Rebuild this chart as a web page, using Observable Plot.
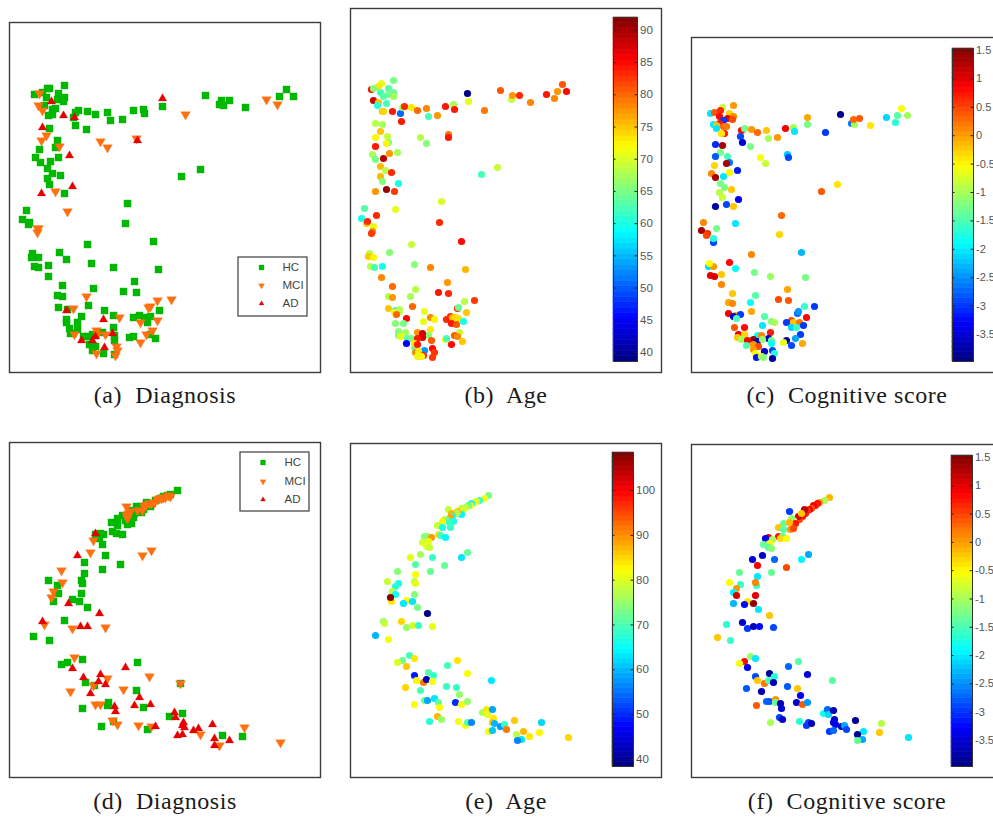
<!DOCTYPE html>
<html><head><meta charset="utf-8">
<script src="https://cdn.jsdelivr.net/npm/d3@7"></script>
<script src="https://cdn.jsdelivr.net/npm/@observablehq/plot@0.6"></script>
<style>
html,body{margin:0;padding:0;background:#fff;width:993px;height:818px;overflow:hidden}
#page{position:relative;width:993px;height:818px;overflow:hidden}
#page svg{position:absolute;overflow:hidden;background:none}
.cap{position:absolute;font-family:"Liberation Serif",serif;font-size:24px;letter-spacing:.55px;color:#1a1a1a;white-space:pre;transform:translateX(-50%);line-height:26px}
</style></head><body><div id="page"></div>
<script>
const hcA=[[64,85],[49,88],[47,88],[42,92],[34,94],[58,93],[64,97],[46,97],[57,99],[63,101],[44,105],[55,108],[52,109],[52,114],[48,115],[78,110],[75,112],[87,111],[95,114],[107,112],[110,120],[122,119],[133,110],[143,109],[144,113],[162,106],[73,117],[75,125],[86,129],[49,128],[57,140],[55,147],[39,149],[35,157],[40,162],[50,161],[58,157],[47,168],[52,173],[60,175],[47,178],[49,184],[64,193],[127,203],[125,223],[26,210],[22,219],[29,222],[28,224],[181,176],[200,169],[205,95],[221,100],[229,100],[219,104],[223,105],[245,107],[279,96],[286,89],[293,96],
[87,244],[153,241],[32,253],[31,257],[38,257],[59,252],[66,259],[91,263],[113,267],[158,269],[34,266],[38,267],[48,265],[48,276],[134,281],[62,285],[93,288],[57,295],[62,296],[123,291],[136,292],[88,305],[58,307],[67,309],[104,310],[159,310],[81,316],[113,315],[133,317],[139,315],[144,317],[150,316],[147,322],[66,319],[66,322],[77,322],[113,327],[69,328],[77,329],[70,333],[83,336],[87,336],[92,334],[102,332],[114,335],[114,340],[129,337],[133,336],[150,334],[155,338],[89,344],[95,346],[92,350],[103,353],[114,354]];
const mciA=[[39,93],[38,105],[42,110],[46,135],[41,140],[59,146],[55,191],[67,211],[38,228],[100,141],[107,147],[136,138],[185,114],[266,99],[277,104],[37,228],[37,232],[86,296],[73,308],[157,300],[171,299],[150,306],[148,307],[119,317],[140,322],[157,320],[152,330],[146,334],[140,342],[96,330],[74,334],[105,334],[97,334],[116,346],[117,350],[115,355],[96,353]];
const adA=[[51,101],[63,115],[74,117],[42,127],[69,155],[72,186],[41,193],[137,140],[162,98],[66,310],[103,319],[112,333],[95,336],[92,340],[81,340],[104,347]];

const ageB=[[393,80,65],[381,83,71],[378,86,73],[371,89,85],[373,88,66],[388,88,63],[380,92,62],[393,92,64],[393,96,67],[388,94,65],[383,96,63],[373,100,88],[378,102,75],[386,103,62],[377,105,61],[382,111,76],[383,111,74],[392,111,84],[400,113,51],[402,107,67],[404,106,83],[411,107,73],[417,110,80],[426,108,78],[428,116,62],[437,115,77],[445,106,84],[453,104,67],[454,109,84],[467,93,39],[468,101,71],[484,110,79],[500,90,81],[511,99,69],[512,95,77],[519,95,83],[530,102,78],[546,94,84],[554,98,78],[557,91,77],[562,84,81],[566,91,85],[401,121,84],[375,123,68],[382,124,67],[380,131,75],[387,136,69],[375,137,72],[388,142,65],[386,143,72],[375,146,84],[420,137,68],[426,143,66],[448,134,79],[448,137,84],[397,152,67],[389,153,77],[372,154,67],[375,159,65],[383,158,89],[380,166,76],[385,170,68],[391,172,83],[380,176,76],[382,181,66],[398,183,60],[375,191,77],[386,189,91],[394,191,82],[441,201,70],[497,167,69],[481,174,62],
[364,208,63],[395,209,71],[376,215,83],[361,218,60],[366,223,75],[367,221,83],[373,226,71],[372,231,78],[371,233,82],[439,222,83],[411,244,69],[461,241,85],[389,252,66],[369,253,68],[368,256,75],[373,257,72],[414,264,66],[430,267,78],[465,269,76],[370,266,68],[374,267,62],[382,266,60],[381,277,78],[447,282,77],[392,286,80],[415,289,68],[438,292,84],[448,293,83],[388,296,68],[392,297,77],[410,296,67],[464,301,68],[474,300,82],[457,308,83],[458,307,64],[388,308,75],[412,306,80],[395,310,60],[399,309,68],[394,312,72],[399,311,68],[396,314,80],[424,311,71],[466,312,75],[406,318,85],[430,317,78],[434,319,72],[446,319,83],[450,316,83],[452,317,76],[455,317,74],[458,318,73],[423,321,71],[451,323,84],[456,324,81],[463,321,60],[395,323,66],[403,323,65],[430,329,73],[459,332,69],[398,331,66],[405,332,67],[398,335,65],[400,336,71],[417,332,77],[428,335,66],[422,333,87],[422,337,87],[407,338,63],[411,338,65],[417,338,84],[454,335,81],[457,336,78],[445,339,72],[446,338,62],[462,341,75],[431,340,81],[406,343,45],[414,347,64],[414,343,73],[451,344,85],[432,348,85],[417,344,84],[424,350,53],[434,352,82],[415,352,78],[418,351,73],[423,355,83],[417,356,71],[421,356,72],[432,357,82]];

const cogC=[[733,105,0],[722,107,-0.8],[710,113,-2],[714,112,0.4],[720,110,0.6],[729,113,-0.3],[733,116,0.1],[719,116,0.8],[727,118,1],[732,119,0.5],[723,120,-3],[719,123,0.7],[713,124,-2],[716,125,-0.2],[723,126,0.3],[726,126,0.2],[716,128,-2],[724,133,0.7],[721,133,-0.4],[741,130,0.8],[744,128,-1.3],[751,129,0],[757,132,0.3],[766,130,-0.2],[785,128,0.9],[793,127,-1],[794,131,-2],[768,138,-1],[777,137,0],[807,117,-0.1],[807,124,-1.3],[825,132,-3],[840,114,-3.9],[851,123,-2.6],[854,124,-1],[853,119,0.3],[859,118,0.4],[870,125,-0.4],[886,117,-2.1],[895,122,-1.7],[897,115,-1.4],[901,108,-0.6],[907,115,-1],[740,136,-2.9],[742,142,-3.5],[750,146,-1.3],[715,144,-3.1],[722,145,1.3],[720,152,-1.3],[727,156,-1.5],[715,156,-2.8],[729,162,-2.6],[726,163,1.3],[714,165,-0.3],[760,157,-0.6],[765,163,-0.8],[787,154,-2.2],[788,157,-2.9],[737,170,-3.2],[729,172,-0.5],[711,173,0.1],[715,177,1.3],[723,176,-2],[720,183,-1.3],[724,187,-1.3],[731,189,-0.2],[719,192,-0.9],[722,197,-0.8],[738,199,-3.3],[715,206,-3.8],[726,204,-2.9],[733,206,-0.2],[837,184,-0.4],[821,191,0.4],
[781,215,0.3],[703,222,0.1],[735,223,-2],[716,228,-1.3],[701,230,1.3],[707,233,0.6],[706,235,0.5],[713,242,-2.9],[713,238,-1.7],[779,234,-0.3],[751,254,0.1],[801,252,-2.3],[729,262,0.8],[708,266,-2.1],[713,266,0],[709,263,-0.6],[735,268,-1.9],[754,272,-1.3],[770,276,-1.1],[805,277,-1.3],[710,275,1],[714,276,1.1],[721,274,-0.2],[721,284,0.1],[787,289,-0.1],[732,293,-0.2],[755,295,-1.4],[778,299,0.5],[788,300,0.4],[728,302,-0.1],[732,303,0.1],[750,302,-1.9],[804,306,-1.6],[814,306,-3],[751,311,-0.1],[797,313,-2.7],[798,311,-2.5],[728,313,0.9],[735,315,-0.1],[733,316,-3.6],[740,314,-3],[736,318,-1.5],[764,316,-1.4],[806,317,0.8],[771,321,-1.2],[774,322,-1],[791,320,0.5],[786,322,-3],[793,322,-0.2],[799,322,0.2],[791,327,-2.1],[796,327,-1.6],[803,325,-3],[762,325,-2],[734,327,0.4],[744,327,0.8],[770,332,0.7],[800,334,-3],[738,334,1],[744,334,-0.3],[737,337,-0.2],[741,339,-1],[757,335,-1.9],[761,335,0.1],[768,338,-3.6],[753,339,1.4],[747,340,0.9],[757,341,-3.6],[762,339,-1.1],[771,340,-1.3],[795,338,-2.4],[786,340,-3.8],[783,342,-0.7],[802,343,-0.1],[771,343,-1.9],[791,345,-2.9],[746,345,-1.5],[753,344,0],[758,346,0.5],[753,349,0],[772,350,-2.9],[764,351,-3.6],[774,353,-1.7],[755,353,-0.6],[756,357,-3.2],[761,356,-0.7],[763,357,-1.2],[772,358,-3.8]];

const hcD=[[177,490],[170,494],[167,495],[163,496],[160,498],[155,500],[152,503],[150,506],[146,502],[143,509],[140,506],[136,506],[141,512],[134,513],[131,510],[133,517],[128,517],[122,515],[125,520],[117,518],[131,523],[127,524],[111,522],[117,525],[112,531],[116,533],[122,534],[95,534],[100,533],[103,534],[99,538],[102,544],[105,555],[84,562],[102,569],[120,564],[84,573],[48,580],[81,580],[82,583],[57,585],[58,593],[81,593],[53,601],[72,599],[79,601],[87,607],[64,620],[33,636],[49,640],[82,659],[67,662],[61,664],[137,662],[180,683],[85,682],[94,685],[136,690],[108,702],[107,705],[82,708],[143,707],[169,716],[182,713],[113,721],[101,726],[147,729],[222,735],[242,736]];
const mciD=[[170,496],[168,495],[165,497],[163,497],[161,498],[159,498],[157,499],[154,502],[151,503],[149,503],[146,504],[144,506],[142,510],[137,510],[126,506],[130,511],[128,513],[126,515],[127,518],[93,540],[90,552],[142,555],[151,550],[61,570],[62,582],[53,591],[51,597],[44,624],[72,628],[105,627],[74,657],[149,676],[107,678],[180,683],[93,685],[123,689],[70,691],[95,704],[100,704],[112,720],[117,724],[138,725],[151,726],[200,734],[219,745],[244,727],[280,742]];
const adD=[[95,533],[77,555],[68,603],[99,613],[42,621],[80,626],[87,626],[125,667],[72,668],[100,674],[83,677],[98,681],[105,684],[90,693],[139,697],[150,704],[134,705],[114,706],[115,711],[174,712],[175,717],[183,722],[182,725],[184,727],[155,726],[212,724],[198,728],[193,730],[182,734],[177,735],[214,738],[229,740],[214,745]];

const ageE=[[488,495,73],[484,498,82],[479,500,68],[476,501,78],[474,502,82],[471,503,65],[470,505,83],[468,505,72],[465,507,77],[463,509,80],[461,508,78],[448,509,78],[461,514,64],[457,511,86],[456,513,76],[451,513,87],[452,516,66],[450,517,88],[444,519,78],[447,520,72],[442,521,83],[453,521,66],[449,522,68],[437,525,78],[442,527,66],[450,527,68],[438,534,84],[440,535,70],[445,537,64],[424,536,74],[427,536,74],[431,537,89],[422,542,79],[428,541,81],[426,546,81],[429,547,78],[420,554,76],[410,557,81],[432,557,68],[461,557,63],[467,552,72],[415,564,71],[444,565,72],[397,571,74],[430,571,72],[415,574,82],[387,581,78],[414,581,77],[415,583,81],[398,583,66],[395,586,67],[392,591,77],[395,594,65],[414,594,74],[391,601,84],[390,597,108],[406,600,82],[403,603,63],[412,601,63],[417,607,73],[427,613,39],[383,621,75],[384,623,78],[401,621,85],[406,627,75],[412,625,79],[418,625,68],[432,626,81],
[375,635,60],[388,639,82],[409,655,70],[402,660,72],[414,658,84],[397,662,79],[406,666,86],[447,665,70],[457,660,84],[467,673,82],[414,675,49],[428,672,71],[433,675,69],[416,680,83],[423,682,91],[426,679,42],[432,681,82],[491,680,63],[405,687,85],[420,690,70],[446,686,68],[456,687,68],[459,694,75],[424,700,72],[427,700,59],[434,698,63],[438,702,72],[439,707,82],[414,704,82],[455,702,50],[461,704,82],[467,701,75],[482,712,76],[486,709,84],[487,714,81],[492,709,59],[437,716,87],[441,719,75],[429,721,67],[458,721,82],[465,725,82],[467,722,71],[471,722,57],[493,718,84],[492,722,86],[494,723,60],[500,726,58],[504,724,68],[506,729,92],[514,720,86],[541,722,62],[488,731,82],[492,730,61],[523,731,87],[539,732,83],[516,734,77],[529,736,84],[521,739,63],[517,740,56],[568,737,85]];

const cogF=[[829,497,-0.1],[824,500,-1],[819,502,0],[817,503,0.8],[815,505,0.6],[813,505,0.9],[811,508,0.4],[809,509,0.9],[807,510,0.6],[805,513,0.7],[804,509,1.2],[802,516,0.8],[799,519,0.5],[798,516,1.1],[801,513,-0.2],[789,511,-3],[793,520,-0.5],[791,518,-1.1],[795,523,0.7],[783,523,-1.3],[789,522,-0.1],[778,527,-0.2],[783,529,-1.4],[790,529,0],[793,528,0.5],[778,536,0.7],[782,536,-1.4],[780,538,-0.3],[786,538,-0.6],[768,537,1],[765,538,-3.3],[772,539,-1],[769,543,-0.6],[763,544,-1.3],[768,547,-1.4],[771,548,-1.2],[762,555,-3.6],[752,559,-3.5],[774,559,-2.7],[801,559,-1.9],[808,554,-2.4],[757,565,0.9],[786,567,0.5],[739,572,-1.3],[771,572,-1.3],[757,576,-2],[729,582,-0.6],[756,585,-1.6],[740,584,-1.6],[755,582,0.1],[736,588,0],[733,592,-1.9],[736,595,1.1],[755,595,1],[747,601,-0.4],[744,604,-3.2],[753,603,1.4],[733,603,-2.3],[758,609,-2],[769,615,-0.2],[726,624,-1.7],[742,622,-3.6],[747,628,-3],[753,626,-3.7],[759,626,-3.2],[773,627,-2.9],
[717,637,-0.2],[730,640,-1.6],[750,656,-1.1],[755,658,-2],[744,661,0.8],[739,663,-0.6],[747,667,-3.4],[788,666,-2.7],[798,661,-1.4],[807,674,-3.5],[755,676,-2.9],[769,673,-3.8],[774,676,-1.7],[757,680,-0.2],[764,683,0.2],[768,680,-1.5],[773,682,-3.7],[832,680,-1.4],[746,688,-2.8],[761,691,-3.7],[787,686,-2.8],[797,688,-0.2],[800,695,-3.3],[766,701,-2.7],[769,701,-2.8],[775,699,0],[775,702,-1.3],[780,703,-3.7],[781,708,-3.5],[756,705,0.4],[796,702,-3.6],[802,704,0.4],[807,702,-2.5],[823,713,-1.8],[827,709,-2.7],[828,714,-2.1],[833,710,-3.7],[779,717,-2.9],[782,719,-3.6],[770,722,-1],[799,721,-1.7],[806,725,-3],[808,722,-2.9],[811,723,-3.7],[834,719,-3.6],[833,722,-3.5],[835,724,-3.4],[841,726,-3.6],[844,725,-2.4],[846,729,-2.9],[855,720,-3.8],[881,723,-0.9],[829,731,-3],[833,730,-2.7],[863,731,-2],[879,732,-0.2],[857,734,-3.8],[862,739,-2.4],[857,740,-1.3],[908,737,-2]];

const legendLabels=["HC","MCI","AD"];
const captions=["(a)  Diagnosis","(b)  Age","(c)  Cognitive score","(d)  Diagnosis","(e)  Age","(f)  Cognitive score"];
const ageTicksB=[40,45,50,55,60,65,70,75,80,85,90];
const ageTicksE=[40,50,60,70,80,90,100];
const cogTicks=[-3.5,-3,-2.5,-2,-1.5,-1,-0.5,0,0.5,1,1.5];

const page=document.getElementById("page");
const GREEN="#00b800",ORANGE="#ff7010",RED="#e60000",EDGE="#3c3c3c";
const levels=64;
function jet(t){
  const q=(Math.min(levels-1,Math.floor(t*levels))+0.5)/levels;
  const c=v=>Math.round(255*Math.max(0,Math.min(1,v)));
  return `rgb(${c(1.5-Math.abs(4*q-3))},${c(1.5-Math.abs(4*q-2))},${c(1.5-Math.abs(4*q-1))})`;
}
const PAD=2;
function place(svg,left,top){svg.style.left=left+"px";svg.style.top=top+"px";page.appendChild(svg);}
function panel([x0,y0,x1,y1],marks,color){
  const p=Plot.plot({
    width:x1-x0+PAD*2,height:y1-y0+PAD*2,
    marginLeft:PAD,marginRight:PAD,marginTop:PAD,marginBottom:PAD,
    x:{domain:[x0,x1],axis:null},y:{domain:[y0,y1],reverse:true,axis:null},
    color,style:{background:"none"},
    marks:[...marks,Plot.frame({stroke:EDGE,strokeWidth:1.4})]
  });
  place(p,x0-PAD,y0-PAD);
}
const sq=(d,fill=GREEN,r=4)=>Plot.dot(d,{x:"0",y:"1",symbol:"square",r,fill,stroke:fill,strokeOpacity:.3,strokeWidth:1});
const dn=(d,r=3.6)=>Plot.dot(d,{x:"0",y:"1",symbol:"triangle",rotate:180,r,fill:ORANGE,stroke:ORANGE,strokeOpacity:.3,strokeWidth:1});
const up=(d,r=3.1)=>Plot.dot(d,{x:"0",y:"1",symbol:"triangle",r,fill:RED,stroke:RED,strokeOpacity:.3,strokeWidth:1});
function legend([lx0,ly0,lx1,ly1],mx,tx,ys){
  return [
    Plot.rect([0],{x1:lx0,x2:lx1,y1:ly0,y2:ly1,fill:"white",stroke:EDGE,strokeWidth:1.2}),
    sq([[mx,ys[0]]],GREEN,2.8),dn([[mx,ys[1]]],2.2),up([[mx,ys[2]]],1.8),
    Plot.text(legendLabels,{x:tx,y:(d,i)=>ys[i],text:d=>d,textAnchor:"start",fontSize:11.5,fontFamily:"Liberation Sans",fill:"#444"})
  ];
}
const dots=d=>Plot.dot(d,{x:"0",y:"1",fill:"2",r:3.6});
const fmt=d=>String(d);
function colorbar([x0,y0,x1,y1],domain,ticks,fontSize=11.5){
  const w=x1-x0;
  const step=(domain[1]-domain[0])/levels;
  const bands=d3.range(levels);
  const ext=40;
  const val=i=>domain[0]+(i+.5)*step;
  const p=Plot.plot({
    width:w+ext,height:y1-y0+PAD*2,
    marginLeft:PAD,marginRight:ext-PAD,marginTop:PAD,marginBottom:PAD,
    x:{domain:[0,w],axis:null},y:{domain},
    color:{type:"linear",domain,interpolate:jet},style:{background:"none"},
    marks:[
      Plot.rect(bands,{x1:0,x2:w,y1:i=>domain[0]+i*step,y2:i=>domain[0]+(i+1)*step,fill:val,stroke:val,strokeWidth:.6}),
      Plot.ruleY(ticks,{x1:0,x2:2.5,stroke:"#222",strokeWidth:1}),
      Plot.ruleY(ticks,{x1:w-2.5,x2:w,stroke:"#222",strokeWidth:1}),
      Plot.frame({stroke:"#333",strokeWidth:1}),
      Plot.axisY(ticks,{anchor:"right",tickSize:0,tickPadding:2.5,tickFormat:fmt,fontSize,fontFamily:"Liberation Sans",color:"#555",label:null})
    ]
  });
  place(p,x0-PAD,y0-PAD);
}
const ageCB=[38.6,92],ageCE=[38.4,108.5],cogCC=[-3.975,1.535],cogCF=[-3.96,1.535];
panel([9,22,320,372],[sq(hcA),dn(mciA),up(adA),...legend([238,257,307,316],261,282,[267,285,303])]);
panel([350,8,661,372],[dots(ageB)],{type:"linear",domain:ageCB,interpolate:jet});
panel([691,37,1000,372],[dots(cogC)],{type:"linear",domain:cogCC,interpolate:jet});
panel([9,442,320,777],[sq(hcD),dn(mciD),up(adD),...legend([240,452,309,511],262.5,284,[462,481,499])]);
panel([350,443,661,777],[dots(ageE)],{type:"linear",domain:ageCE,interpolate:jet});
panel([691,444,1000,777],[dots(cogF)],{type:"linear",domain:cogCF,interpolate:jet});
colorbar([613,17,637,361],ageCB,ageTicksB);
colorbar([952,48,973,361],cogCC,cogTicks,11);
colorbar([612,452,633,766],ageCE,ageTicksE);
colorbar([951,455,972,766],cogCF,cogTicks,11);
const capX=[165,506,847,165,506,847],capY=[382,382,382,788,788,788];
captions.forEach((t,i)=>{const e=document.createElement("div");e.className="cap";e.textContent=t;e.style.left=capX[i]+"px";e.style.top=capY[i]+"px";page.appendChild(e);});
</script></body></html>
